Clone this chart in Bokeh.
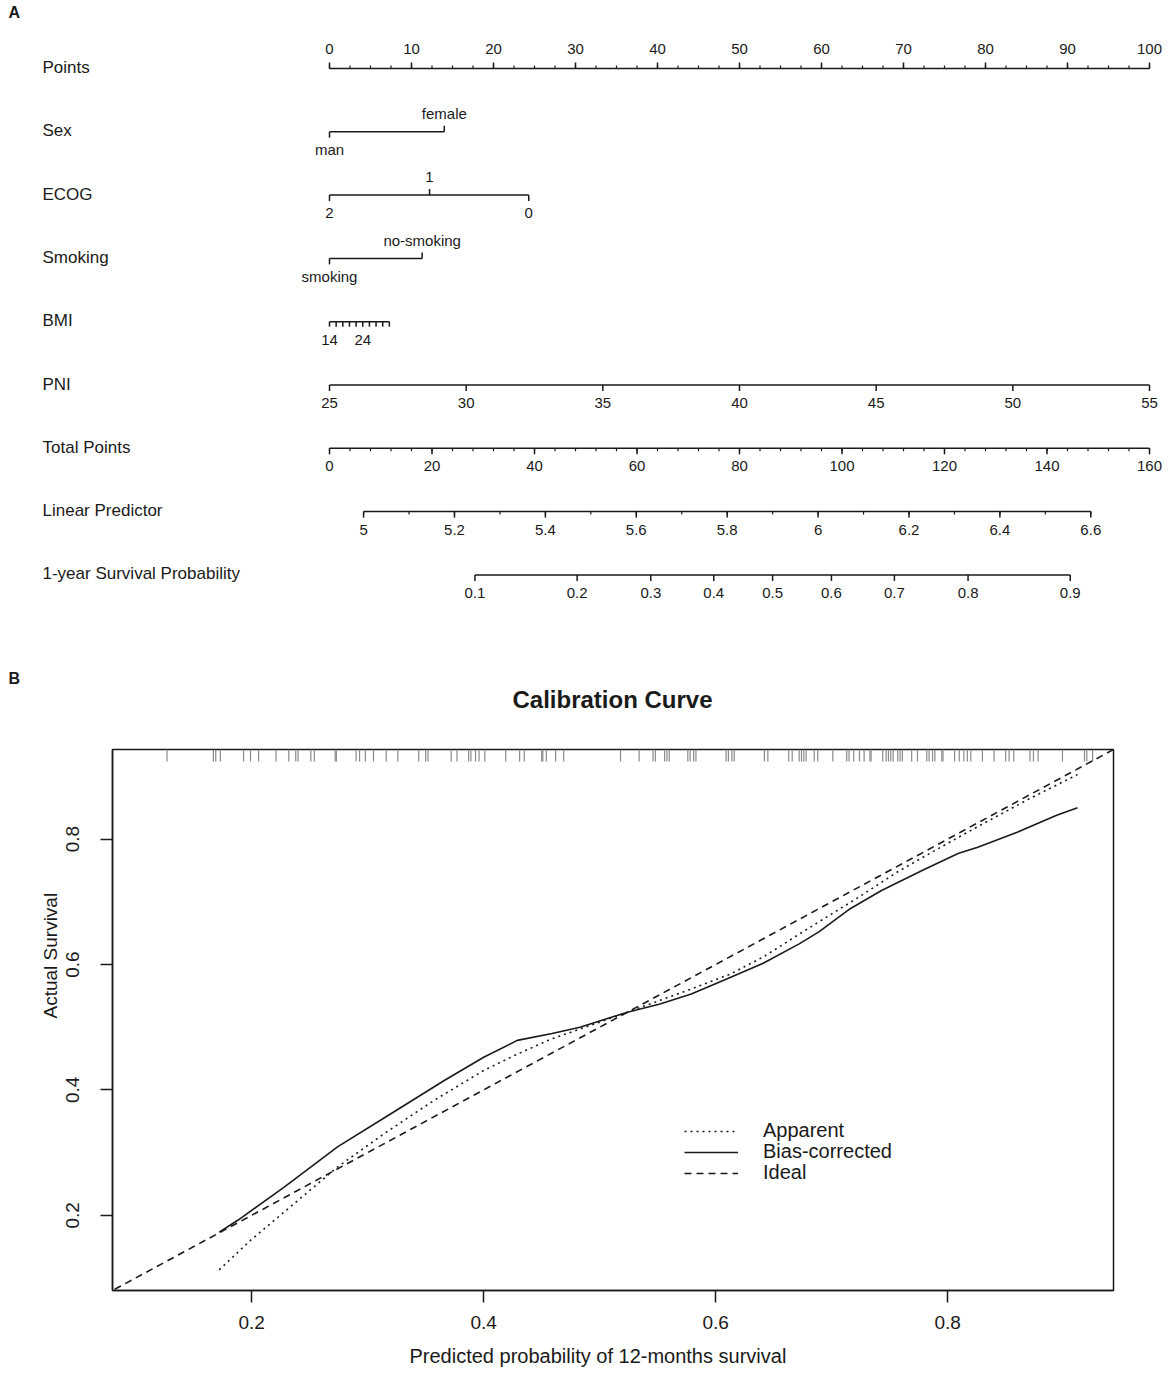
import math
from statistics import NormalDist
from bokeh.plotting import figure
from bokeh.models import Range1d, FixedTicker, Legend, LegendItem, Title
from bokeh.core.properties import value
from bokeh.embed import file_html
from bokeh.resources import INLINE

FONT = "Liberation Sans"
INK = "#1a1a1a"

# ---------------- Panel A: nomogram data ----------------
row_names = ["Points", "Sex", "ECOG", "Smoking", "BMI", "PNI",
             "Total Points", "Linear Predictor", "1-year Survival Probability"]

points_labels = [0, 10, 20, 30, 40, 50, 60, 70, 80, 90, 100]
points_minor_step = 2.5

sex_levels = ["man", "female"]
sex_points = [0.0, 14.0]
sex_side = ["below", "above"]

ecog_levels = ["2", "1", "0"]
ecog_points = [0.0, 12.2, 24.3]
ecog_side = ["below", "above", "below"]

smoking_levels = ["smoking", "no-smoking"]
smoking_points = [0.0, 11.3]
smoking_side = ["below", "above"]

bmi_values = [14, 16, 18, 20, 22, 24, 26, 28, 30, 32]
bmi_labelled = [14, 24]
bmi_points_at_ends = [0.0, 7.3]

pni_values = [25, 30, 35, 40, 45, 50, 55]
pni_points_at_ends = [0.0, 100.0]

total_labels = [0, 20, 40, 60, 80, 100, 120, 140, 160]
total_minor_step = 4
total_max = 160

lp_labels = [5.0, 5.2, 5.4, 5.6, 5.8, 6.0, 6.2, 6.4, 6.6]
lp_minor_step = 0.1

surv_labels = [0.1, 0.2, 0.3, 0.4, 0.5, 0.6, 0.7, 0.8, 0.9]

# model (log-normal survival model)
lp_at_zero_total = 4.925
lp_per_total_point = 0.011276
sigma = 0.511
horizon_days = 365

# ---------------- Panel B: calibration data ----------------
axis_lim = [0.080, 0.943]

apparent_x = [0.172, 0.199, 0.233, 0.274, 0.314, 0.357, 0.400, 0.429, 0.458, 0.500,
              0.524, 0.579, 0.613, 0.641, 0.682, 0.723, 0.757, 0.791, 0.826, 0.870, 0.912]
apparent_y = [0.113, 0.160, 0.213, 0.277, 0.330, 0.383, 0.431, 0.457, 0.481, 0.508,
              0.524, 0.561, 0.585, 0.612, 0.660, 0.707, 0.748, 0.784, 0.820, 0.864, 0.903]

bias_x = [0.172, 0.188, 0.228, 0.274, 0.320, 0.366, 0.400, 0.429, 0.459, 0.483, 0.524,
          0.552, 0.579, 0.606, 0.641, 0.672, 0.689, 0.716, 0.743, 0.778, 0.809, 0.826,
          0.860, 0.894, 0.912]
bias_y = [0.173, 0.192, 0.245, 0.309, 0.362, 0.415, 0.452, 0.479, 0.490, 0.500, 0.524,
          0.537, 0.553, 0.574, 0.602, 0.633, 0.652, 0.689, 0.718, 0.750, 0.777, 0.787,
          0.811, 0.838, 0.850]

ideal_x = [0.0, 1.0]
ideal_y = [0.0, 1.0]

rug_x = [0.127, 0.167, 0.169, 0.173, 0.193, 0.199, 0.206, 0.221, 0.232, 0.238, 0.240,
         0.251, 0.254, 0.272, 0.273, 0.290, 0.293, 0.298, 0.305, 0.316, 0.326, 0.344,
         0.350, 0.352, 0.372, 0.377, 0.387, 0.389, 0.393, 0.396, 0.401, 0.419, 0.431,
         0.435, 0.450, 0.451, 0.454, 0.462, 0.469, 0.518, 0.534, 0.546, 0.548, 0.556,
         0.558, 0.560, 0.576, 0.578, 0.581, 0.583, 0.609, 0.611, 0.614, 0.616, 0.642,
         0.645, 0.663, 0.666, 0.672, 0.674, 0.676, 0.678, 0.685, 0.688, 0.701, 0.713,
         0.715, 0.719, 0.724, 0.728, 0.733, 0.734, 0.744, 0.747, 0.749, 0.751, 0.753,
         0.757, 0.759, 0.761, 0.769, 0.774, 0.782, 0.784, 0.787, 0.789, 0.795, 0.796,
         0.806, 0.810, 0.814, 0.817, 0.820, 0.830, 0.840, 0.850, 0.853, 0.857, 0.871,
         0.874, 0.878, 0.899, 0.918, 0.920, 0.925]

legend_labels = ["Apparent", "Bias-corrected", "Ideal"]
cal_title = "Calibration Curve"
x_title = "Predicted probability of 12-months survival"
y_title = "Actual Survival"

# ====================== Panel A figure (also holds panel B heading) ======================
W_TOP = 1166
NOMO_H = 715
PX_PER_PT = 8.2
X0 = 329  # pixel of 0 points

nomo = figure(width=W_TOP, height=NOMO_H,
              x_range=Range1d(-X0 / PX_PER_PT, (W_TOP - X0) / PX_PER_PT),
              y_range=Range1d(NOMO_H, 0),
              min_border=0, output_backend="svg", toolbar_location=None,
              x_axis_type=None, y_axis_type=None)
nomo.outline_line_color = None


def px(xpix):
    return (xpix - X0) / PX_PER_PT


ROW0 = 67
ROW_STEP = 63.3
row_y = [ROW0 + ROW_STEP * i for i in range(len(row_names))]

nomo.text(x=[px(42)] * len(row_names), y=row_y, text=row_names,
          text_font=value(FONT), text_font_size="17px", text_color=INK,
          text_align="left", text_baseline="middle")

nomo.text(x=[px(8), px(8)], y=[12, 678], text=["A", "B"], text_font=value(FONT),
          text_font_size="16px", text_font_style="bold", text_color=INK,
          text_align="left", text_baseline="middle")

nomo.text(x=[px(612)], y=[699], text=[cal_title], text_font=value(FONT),
          text_font_size="24px", text_font_style="bold", text_color=INK,
          text_align="center", text_baseline="middle")


def nomo_axis(row, pos, labels, sides, minor=None, minor_side="below",
              tick_len=6, minor_len=3, gap=18):
    ly = row_y[row] + 1
    allp = list(pos) + (list(minor) if minor else [])
    nomo.segment(x0=[min(allp)], y0=[ly], x1=[max(allp)], y1=[ly],
                 line_color=INK, line_width=1.5)
    dirs = [-1 if s == "above" else 1 for s in sides]
    nomo.segment(x0=pos, y0=[ly] * len(pos), x1=pos,
                 y1=[ly + d * tick_len for d in dirs], line_color=INK, line_width=1.5)
    if minor:
        md = -1 if minor_side == "above" else 1
        nomo.segment(x0=minor, y0=[ly] * len(minor), x1=minor,
                     y1=[ly + md * minor_len for _ in minor], line_color=INK, line_width=1.2)
    tx, ty, tt = [], [], []
    for p_, lab, d in zip(pos, labels, dirs):
        if lab is None:
            continue
        tx.append(p_)
        ty.append(ly + d * gap)
        tt.append(lab)
    nomo.text(x=tx, y=ty, text=tt, text_font=value(FONT), text_font_size="15px",
              text_color=INK, text_align="center", text_baseline="middle")


def fmt(v):
    return f"{v:g}"


# Points
pm = [i * points_minor_step for i in range(int(100 / points_minor_step) + 1)]
nomo_axis(0, points_labels, [fmt(v) for v in points_labels], ["above"] * len(points_labels),
          minor=pm, minor_side="above", gap=20)
# Sex
nomo_axis(1, sex_points, sex_levels, sex_side)
# ECOG
nomo_axis(2, ecog_points, ecog_levels, ecog_side)
# Smoking
nomo_axis(3, smoking_points, smoking_levels, smoking_side)
# BMI
b0, b1 = bmi_values[0], bmi_values[-1]
bmi_pts = [bmi_points_at_ends[0] + (v - b0) / (b1 - b0) * (bmi_points_at_ends[1] - bmi_points_at_ends[0])
           for v in bmi_values]
nomo_axis(4, bmi_pts, [str(v) if v in bmi_labelled else None for v in bmi_values],
          ["below"] * len(bmi_values), tick_len=5)
# PNI
p0, p1 = pni_values[0], pni_values[-1]
pni_pts = [pni_points_at_ends[0] + (v - p0) / (p1 - p0) * (pni_points_at_ends[1] - pni_points_at_ends[0])
           for v in pni_values]
nomo_axis(5, pni_pts, [fmt(v) for v in pni_values], ["below"] * len(pni_values))


def total_to_pts(t):
    return t * 100.0 / total_max


# Total points
tm = [total_to_pts(i * total_minor_step) for i in range(int(total_max / total_minor_step) + 1)]
nomo_axis(6, [total_to_pts(t) for t in total_labels], [fmt(v) for v in total_labels],
          ["below"] * len(total_labels), minor=tm)


def lp_to_pts(lp):
    return total_to_pts((lp - lp_at_zero_total) / lp_per_total_point)


# Linear predictor
n_lp = int(round((lp_labels[-1] - lp_labels[0]) / lp_minor_step))
lpm = [lp_to_pts(lp_labels[0] + i * lp_minor_step) for i in range(n_lp + 1)]
nomo_axis(7, [lp_to_pts(v) for v in lp_labels], [fmt(v) for v in lp_labels],
          ["below"] * len(lp_labels), minor=lpm)

# Survival probability
nd = NormalDist()
surv_pts = [lp_to_pts(math.log(horizon_days) + sigma * nd.inv_cdf(s)) for s in surv_labels]
nomo_axis(8, surv_pts, [fmt(v) for v in surv_labels], ["below"] * len(surv_labels))

# ====================== Panel B figure ======================
W = 1160
TOP_B, FRAME_H, BOT_B = 34, 541, 88
LEFT_B, FRAME_W = 112, 1001
cal = figure(width=W, height=TOP_B + FRAME_H + BOT_B,
             x_range=Range1d(*axis_lim), y_range=Range1d(*axis_lim),
             min_border_left=LEFT_B, min_border_right=W - LEFT_B - FRAME_W,
             min_border_top=TOP_B, min_border_bottom=BOT_B,
             output_backend="svg", toolbar_location=None)
cal.xgrid.visible = False
cal.ygrid.visible = False
cal.outline_line_color = INK
cal.outline_line_width = 1.5
cal.outline_line_alpha = 1.0

for ax in (cal.xaxis[0], cal.yaxis[0]):
    ax.ticker = FixedTicker(ticks=[0.2, 0.4, 0.6, 0.8])
    ax.major_tick_out = 12
    ax.major_tick_in = 0
    ax.minor_tick_out = 0
    ax.minor_tick_in = 0
    ax.axis_line_color = INK
    ax.axis_line_width = 1.5
    ax.major_tick_line_color = INK
    ax.major_tick_line_width = 1.5
    ax.major_label_text_font = FONT
    ax.major_label_text_font_size = "19px"
    ax.major_label_text_color = INK

cal.xaxis.major_label_standoff = 13
cal.yaxis.major_label_orientation = "vertical"
cal.yaxis.major_label_standoff = 21

# axis titles (placed beside the axes, shifted like in the original)
cal.add_layout(Title(text=x_title, align="left", offset=297, standoff=22,
                     text_font=FONT, text_font_size="20px", text_font_style="normal",
                     text_color=INK), "below")
cal.add_layout(Title(text=y_title, align="left", offset=272, standoff=6,
                     text_font=FONT, text_font_size="19px", text_font_style="normal",
                     text_color=INK), "left")

rug_len = 0.019
top = axis_lim[1]
cal.segment(x0=rug_x, y0=[top] * len(rug_x), x1=rug_x, y1=[top - rug_len] * len(rug_x),
            line_color="#8a8a8a", line_width=1.2)

r_app = cal.line(apparent_x, apparent_y, line_color=INK, line_width=1.6, line_dash="2 4")
r_bias = cal.line(bias_x, bias_y, line_color=INK, line_width=1.6)
r_ideal = cal.line(ideal_x, ideal_y, line_color=INK, line_width=1.6, line_dash="7 5")

# one single-entry legend per line, stacked 21 px apart
for lab, rend, ybot in zip(legend_labels, [r_app, r_bias, r_ideal], [148, 127, 106]):
    lg = Legend(items=[LegendItem(label=lab, renderers=[rend])],
                location=(572, ybot), orientation="vertical",
                glyph_width=54, glyph_height=18, label_height=18, spacing=0,
                label_standoff=25, padding=0, margin=0,
                label_text_font=FONT, label_text_font_size="20px", label_text_color=INK,
                background_fill_alpha=0, border_line_alpha=0)
    cal.add_layout(lg, "center")

open("out.html", "w").write(file_html([nomo, cal], INLINE))
